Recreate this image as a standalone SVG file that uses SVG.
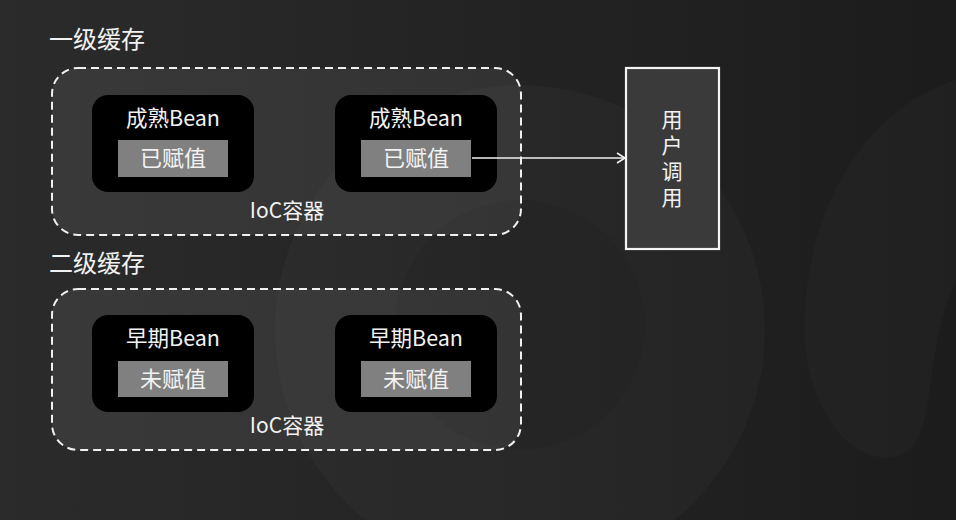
<svg xmlns="http://www.w3.org/2000/svg" width="956" height="520" viewBox="0 0 956 520">
<defs>
<linearGradient id="bg" x1="0" y1="0" x2="1" y2="0">
<stop offset="0" stop-color="#2b2b2b"/>
<stop offset="1" stop-color="#1c1c1c"/>
</linearGradient>
<marker id="arr" markerWidth="12" markerHeight="12" refX="10" refY="6" orient="auto" markerUnits="userSpaceOnUse">
<path d="M2,1 L10,6 L2,11" fill="none" stroke="#f0f0f0" stroke-width="1.6"/>
</marker>
</defs>
<style>
.t{font-family:"Noto Sans CJK SC","Noto Sans",sans-serif;fill:#f2f2f2;}
.title{font-size:24px;}
.lbl{font-size:21.5px;text-anchor:middle;}
.tagt{font-size:22px;text-anchor:middle;}
.ioc{font-size:21px;text-anchor:middle;}
.vert{font-size:21px;writing-mode:vertical-rl;text-anchor:middle;letter-spacing:5px;}
.cont{fill:#ffffff;fill-opacity:0.07;stroke:#f0f0f0;stroke-width:2;stroke-dasharray:8 5;}
.node{fill:#000000;}
.tag{fill:#808080;}
</style>
<rect x="0" y="0" width="956" height="520" fill="url(#bg)"/>
<circle cx="520" cy="330" r="245" fill="#ffffff" fill-opacity="0.025"/>
<circle cx="520" cy="325" r="125" fill="#000000" fill-opacity="0.05"/>
<path d="M956,80 C860,110 800,220 805,340 C810,420 860,470 900,455 C940,440 920,360 956,280 Z" fill="#ffffff" fill-opacity="0.02"/>

<text class="t title" x="49" y="48">一级缓存</text>
<text class="t title" x="49" y="272">二级缓存</text>

<g id="cache1">
<rect class="cont" x="52" y="68" width="469" height="167" rx="26"/>
<text class="t ioc" x="287" y="218">IoC容器</text>
</g>
<g id="cache2">
<rect class="cont" x="52" y="289" width="469" height="161" rx="26"/>
<text class="t ioc" x="287" y="433">IoC容器</text>
</g>

<g id="bean1">
<rect class="node" x="92" y="95" width="162" height="97" rx="16"/>
<text class="t lbl" x="173" y="126">成熟Bean</text>
<rect class="tag" x="118" y="140" width="110" height="37"/>
<text class="t tagt" x="173" y="166">已赋值</text>
</g>
<g id="bean2">
<rect class="node" x="335" y="95" width="162" height="97" rx="16"/>
<text class="t lbl" x="416" y="126">成熟Bean</text>
<rect class="tag" x="361" y="140" width="110" height="37"/>
<text class="t tagt" x="416" y="166">已赋值</text>
</g>
<g id="bean3">
<rect class="node" x="92" y="315" width="162" height="97" rx="16"/>
<text class="t lbl" x="173" y="346">早期Bean</text>
<rect class="tag" x="118" y="361" width="110" height="36"/>
<text class="t tagt" x="173" y="387">未赋值</text>
</g>
<g id="bean4">
<rect class="node" x="335" y="315" width="162" height="97" rx="16"/>
<text class="t lbl" x="416" y="346">早期Bean</text>
<rect class="tag" x="361" y="361" width="110" height="36"/>
<text class="t tagt" x="416" y="387">未赋值</text>
</g>

<g id="user">
<rect x="626" y="68" width="93" height="181" fill="#3a3a3a" stroke="#f4f4f4" stroke-width="2.2"/>
<text class="t vert" x="672" y="161">用户调用</text>
</g>

<g id="connectors">
<line x1="472" y1="158" x2="625" y2="158" stroke="#f0f0f0" stroke-width="1.6" marker-end="url(#arr)"/>
</g>
</svg>
